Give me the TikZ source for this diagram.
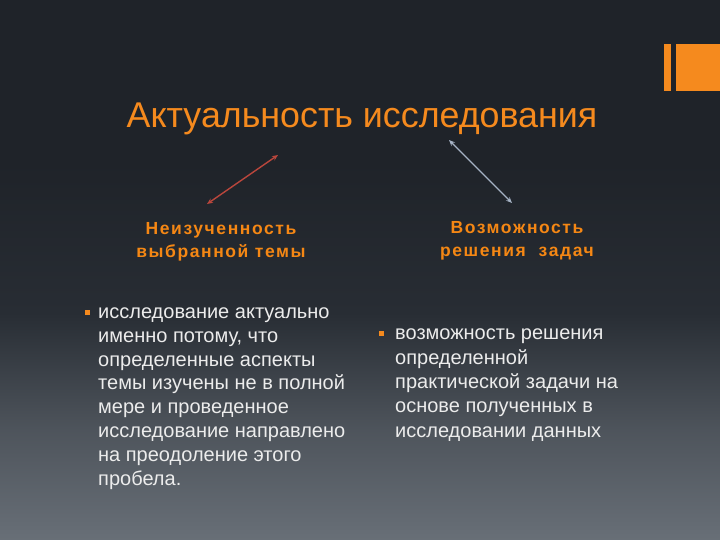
\documentclass[tikz,border=0pt]{standalone}
\usepackage{fontspec}
\setmainfont{Liberation Sans}
\newfontfamily\headfont[LetterSpace=9]{Liberation Sans}
\usetikzlibrary{arrows.meta}
\definecolor{bgtop}{RGB}{31,35,41}
\definecolor{bgmid}{RGB}{40,45,52}
\definecolor{bgbot}{RGB}{104,111,119}
\definecolor{accent}{RGB}{245,138,30}
\definecolor{heading}{RGB}{245,135,20}
\definecolor{bodytext}{RGB}{236,236,236}
\definecolor{redarrow}{RGB}{185,70,60}
\definecolor{greyarrow}{RGB}{165,178,196}
\pgfdeclareverticalshading{slidebg}{100bp}{color(0bp)=(bgbot); color(25bp)=(bgbot); color(35bp)=(bgbot!60!bgmid); color(46bp)=(bgmid); color(60bp)=(bgtop); color(100bp)=(bgtop)}
\tikzset{
  titletext/.style={text=accent, font=\fontsize{35.8}{40}\selectfont, inner sep=0pt},
  headtext/.style={text=heading, font=\headfont\fontsize{17.5}{23}\selectfont\bfseries, align=center, inner sep=0pt},
  bodybox/.style={text=bodytext, font=\fontsize{20}{23.8}\selectfont, align=left, inner sep=0pt, anchor=base west},
  bulletsq/.style={fill=accent, minimum size=5pt, inner sep=0pt, draw=none},
  linkarrow/.style={line width=1.4pt, {Stealth[length=6pt,width=5pt]}-{Stealth[length=6pt,width=5pt]}}
}
\begin{document}
\begin{tikzpicture}[x=1pt,y=-1pt]
\useasboundingbox (0,0) rectangle (720,540);
\shade[shading=slidebg] (0,0) rectangle (720,540);
% logo bars
\fill[accent] (664,44) rectangle (671,91);
\fill[accent] (676,44) rectangle (720,91);
% title
\node[titletext, anchor=base] (title) at (362,128) {Актуальность исследования};
% headings (base = last line)
\node[headtext, anchor=base] (h1) at (221,257) {Неизученность\\выбранной темы};
\node[headtext, anchor=base] (h2) at (517,256) {Возможность\\решения\ \ задач};
% arrow endpoints
\coordinate (a1s) at (278,155);
\coordinate (a1e) at (207,204);
\coordinate (a2s) at (449,140);
\coordinate (a2e) at (512,203);
\draw[linkarrow, redarrow] (a1s) -- (a1e);
\draw[linkarrow, greyarrow] (a2s) -- (a2e);
% bullets
\node[bulletsq] (b1) at (87.5,312) {};
\node[bodybox] (t1) at (98,485) {исследование актуально\\именно потому, что\\определенные аспекты\\темы изучены не в полной\\мере и проведенное\\исследование направлено\\на преодоление этого\\пробела.};
\node[bulletsq] (b2) at (381,333) {};
\node[bodybox, font=\fontsize{20}{24.3}\selectfont] (t2) at (395,437) {возможность решения\\определенной\\практической задачи на\\основе полученных в\\исследовании данных};
\end{tikzpicture}
\end{document}
